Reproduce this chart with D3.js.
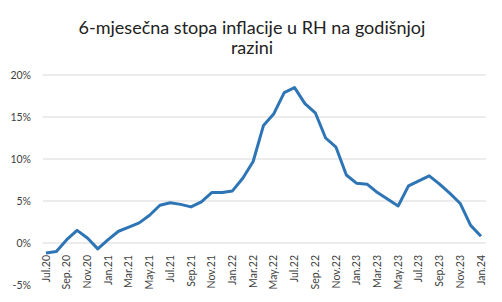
<!DOCTYPE html>
<html>
<head>
<meta charset="utf-8">
<script src="https://cdn.jsdelivr.net/npm/d3@7"></script>
<style>
  body { margin: 0; background: #fff; }
  svg { display: block; }
</style>
</head>
<body>
<div id="chart"></div>
<script>
// dimensions
const width = 502;
const height = 302;

// data
const months = [
  "Jul.20", "Aug.20", "Sep. 20", "Oct.20", "Nov.20", "Dec.20",
  "Jan.21", "Feb.21", "Mar.21", "Apr.21", "May.21", "Jun.21",
  "Jul.21", "Aug.21", "Sep.21", "Oct.21", "Nov.21", "Dec.21",
  "Jan.22", "Feb.22", "Mar.22", "Apr.22", "May.22", "Jun.22",
  "Jul.22", "Aug.22", "Sep. 22", "Oct.22", "Nov.22", "Dec.22",
  "Jan.23", "Feb.23", "Mar.23", "Apr.23", "May.23", "Jun.23",
  "Jul.23", "Aug.23", "Sep.23", "Oct.23", "Nov.23", "Dec.23",
  "Jan.24"
];
const inflation = [
  -1.2, -1.0, 0.4, 1.5, 0.6, -0.7,
  0.4, 1.4, 1.9, 2.4, 3.3, 4.5,
  4.8, 4.6, 4.3, 4.9, 6.0, 6.0,
  6.2, 7.7, 9.7, 14.0, 15.4, 17.9,
  18.5, 16.6, 15.5, 12.5, 11.4, 8.1,
  7.1, 7.0, 6.0, 5.2, 4.4, 6.8,
  7.4, 8.0, 7.0, 5.9, 4.7, 2.1,
  0.8
];
const yTicks = [-5, 0, 5, 10, 15, 20];
const gridTicks = [0, 5, 10, 15, 20];
const titleLines = ["6-mjesečna stopa inflacije u RH na godišnjoj", "razini"];

const font = "Lato, 'Open Sans', sans-serif";

const svg = d3.select("#chart").append("svg")
  .attr("width", width)
  .attr("height", height);

// title
svg.append("g").selectAll("text")
  .data(titleLines)
  .join("text")
  .attr("x", 252)
  .attr("y", (d, i) => 34 + i * 20)
  .attr("text-anchor", "middle")
  .style("font-family", font)
  .style("font-size", "18px")
  .attr("fill", "#222")
  .text(d => d);

// scales
const x = d3.scalePoint().domain(months).range([46, 481]);
const y = d3.scaleLinear().domain([-5, 20]).range([285, 75]);

// gridlines
svg.append("g").selectAll("line")
  .data(gridTicks)
  .join("line")
  .attr("x1", 43).attr("x2", 486)
  .attr("y1", d => y(d)).attr("y2", d => y(d))
  .attr("stroke", "#d9d9d9")
  .attr("stroke-width", 1);

// y axis labels
svg.append("g").selectAll("text")
  .data(yTicks)
  .join("text")
  .attr("x", 31)
  .attr("y", d => y(d) + 4)
  .attr("text-anchor", "end")
  .style("font-family", font)
  .style("font-size", "10.5px")
  .attr("fill", "#404040")
  .text(d => d + "%");

// x axis labels (every second month)
svg.append("g").selectAll("text")
  .data(months.filter((d, i) => i % 2 === 0))
  .join("text")
  .attr("transform", d => `translate(${x(d) + 3.5},255) rotate(-90)`)
  .attr("text-anchor", "end")
  .style("font-family", font)
  .style("font-size", "10.5px")
  .attr("fill", "#404040")
  .text(d => d);

// line
const line = d3.line()
  .x((d, i) => x(months[i]))
  .y(d => y(d));

svg.append("path")
  .datum(inflation)
  .attr("d", line)
  .attr("fill", "none")
  .attr("stroke", "#2e75b6")
  .attr("stroke-width", 3)
  .attr("stroke-linejoin", "round");
</script>
</body>
</html>
